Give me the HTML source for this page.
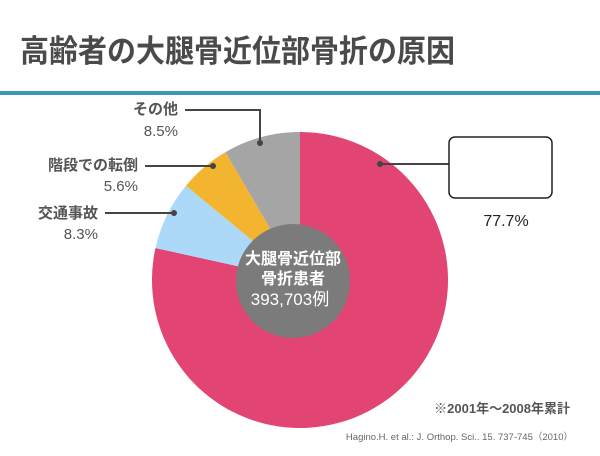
<!DOCTYPE html>
<html><head><meta charset="utf-8"><style>
body{margin:0;width:600px;height:451px;background:#fff;overflow:hidden;font-family:"Liberation Sans","Noto Sans CJK JP",sans-serif}
</style></head><body>
<svg width="600" height="451" viewBox="0 0 600 451" xmlns="http://www.w3.org/2000/svg" style="font-family:'Liberation Sans','Noto Sans CJK JP',sans-serif">
<text x="20" y="62" font-size="31" font-weight="bold" fill="#4a4a4a" textLength="435" lengthAdjust="spacingAndGlyphs">高齢者の大腿骨近位部骨折の原因</text>
<rect x="0" y="91" width="600" height="4" fill="#3d96b8"/>
<path d="M300,280 L300,132 A148,148 0 1 1 155.5,248 Z" fill="#e24474"/>
<path d="M300,280 L155.5,248 A148,148 0 0 1 186,185.7 Z" fill="#acd9f7"/>
<path d="M300,280 L186,185.7 A148,148 0 0 1 225.5,152.1 Z" fill="#f3b52f"/>
<path d="M300,280 L225.5,152.1 A148,148 0 0 1 300,132 Z" fill="#a5a5a5"/>
<circle cx="293" cy="281" r="57" fill="#7b7b7b"/>
<g fill="#fff" text-anchor="middle" font-weight="bold" font-size="16">
<text x="293" y="264">大腿骨近位部</text>
<text x="293" y="284">骨折患者</text>
<text x="290" y="305" font-weight="normal" font-size="17">393,703例</text>
</g>
<g stroke="#444" stroke-width="2" fill="none">
<polyline points="185,110 260,110 260,143"/>
<line x1="145" y1="166" x2="213" y2="166"/>
<line x1="105" y1="213" x2="174" y2="213"/>
<line x1="380" y1="164" x2="449" y2="164"/>
</g>
<g fill="#444"><circle cx="260" cy="143" r="3"/><circle cx="213" cy="166" r="3"/><circle cx="174" cy="213" r="3"/><circle cx="380" cy="164" r="3"/></g>
<rect x="449" y="137" width="103" height="61" rx="6" fill="#fff" stroke="#222" stroke-width="1.5"/>
<g fill="#555" font-size="15" text-anchor="end">
<text x="178" y="114" font-weight="bold">その他</text>
<text x="178" y="136">8.5%</text>
<text x="138" y="170" font-weight="bold">階段での転倒</text>
<text x="138" y="191">5.6%</text>
<text x="98" y="218" font-weight="bold">交通事故</text>
<text x="98" y="239">8.3%</text>
</g>
<text x="506" y="226" font-size="16" fill="#222" text-anchor="middle">77.7%</text>
<text x="570" y="413" font-size="13" font-weight="bold" fill="#555" text-anchor="end">※2001年～2008年累計</text>
<text x="573" y="440" font-size="9.5" fill="#666" text-anchor="end">Hagino.H. et al.: J. Orthop. Sci.. 15. 737-745（2010）</text>
</svg>
</body></html>
